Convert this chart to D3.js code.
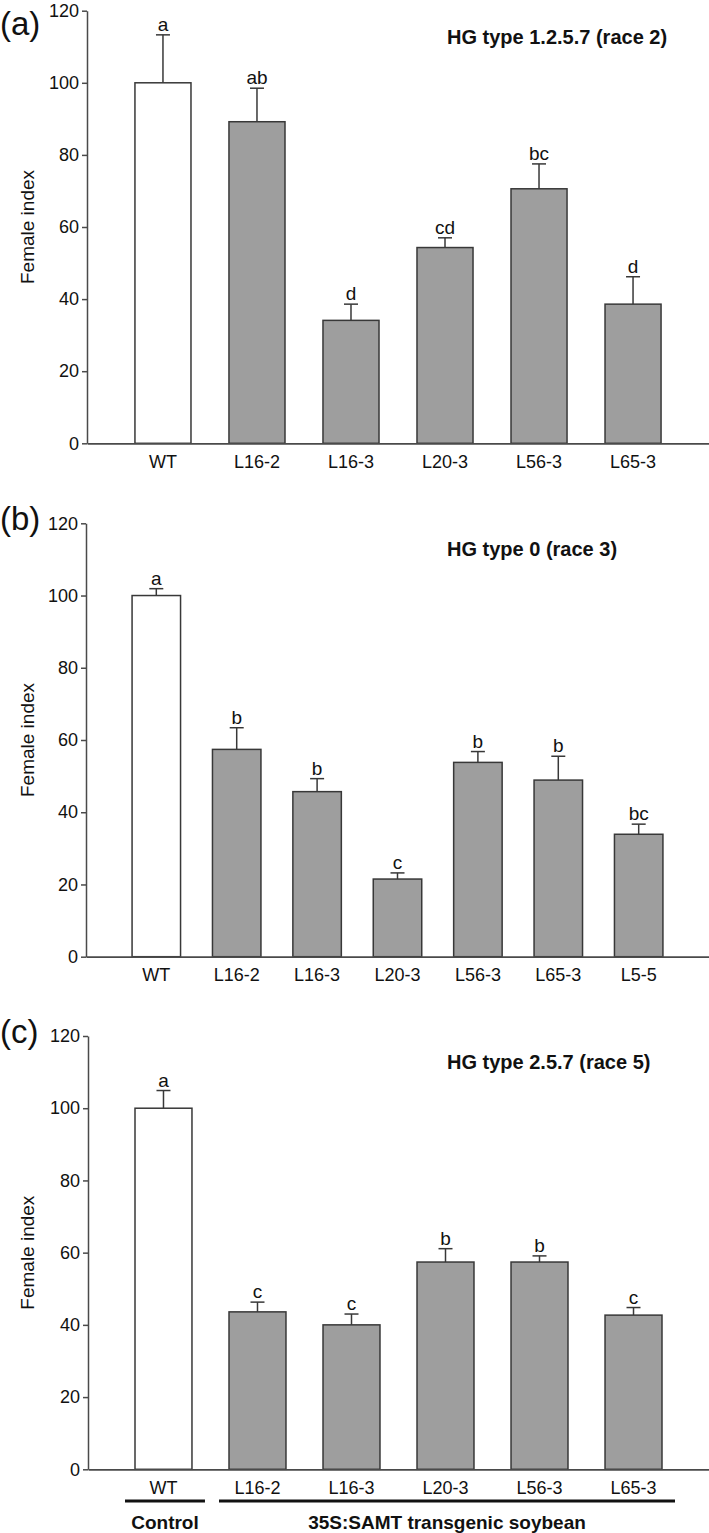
<!DOCTYPE html>
<html>
<head>
<meta charset="utf-8">
<script src="https://cdn.jsdelivr.net/npm/d3@7"></script>
<style>
  html, body { margin: 0; padding: 0; background: #fff; }
  svg { display: block; font-family: "Liberation Sans", Arial, sans-serif; }
</style>
</head>
<body>
<svg id="chart" width="709" height="1533"></svg>
<script>
// ---------- Data ----------
const yTicks = [0, 20, 40, 60, 80, 100, 120];

const catsA = ["WT", "L16-2", "L16-3", "L20-3", "L56-3", "L65-3"];
const valsA = [100, 89.2, 34.1, 54.3, 70.6, 38.6];
const seA = [13.3, 9.3, 4.5, 2.7, 6.9, 7.6];
const lettersA = ["a", "ab", "d", "cd", "bc", "d"];
const titleA = "HG type 1.2.5.7 (race 2)";

const catsB = ["WT", "L16-2", "L16-3", "L20-3", "L56-3", "L65-3", "L5-5"];
const valsB = [100, 57.4, 45.7, 21.5, 53.8, 48.9, 33.9];
const seB = [1.9, 6.0, 3.6, 1.7, 3.0, 6.6, 2.8];
const lettersB = ["a", "b", "b", "c", "b", "b", "bc"];
const titleB = "HG type 0 (race 3)";

const catsC = ["WT", "L16-2", "L16-3", "L20-3", "L56-3", "L65-3"];
const valsC = [100, 43.6, 40.0, 57.4, 57.4, 42.7];
const seC = [4.9, 2.7, 3.0, 3.7, 1.7, 2.1];
const lettersC = ["a", "c", "c", "b", "b", "c"];
const titleC = "HG type 2.5.7 (race 5)";

const groupLabels = ["Control", "35S:SAMT transgenic soybean"];
const groupMembers = [["WT"], ["L16-2", "L16-3", "L20-3", "L56-3", "L65-3"]];

const yLabel = "Female index";

// ---------- Drawing ----------
const svg = d3.select("#chart");
const FILL_CTRL = "#ffffff";
const FILL_TR = "#9e9e9e";
const STROKE = "#383838";
const AXIS = "#4a4a4a";

function drawPanel(cfg) {
  const g = svg.append("g");
  const y = d3.scaleLinear().domain([0, 120]).range([cfg.y0, cfg.yTop]);
  const x = d3.scaleBand().domain(cfg.cats).range([cfg.axisX, 709])
    .paddingInner(cfg.pi).paddingOuter(cfg.po);
  const data = cfg.cats.map((c, i) => ({ c, v: cfg.vals[i], se: cfg.se[i], l: cfg.letters[i], i }));

  // Y axis
  const yAxis = d3.axisLeft(y).tickValues(yTicks).tickSize(5).tickPadding(3).tickSizeOuter(0);
  const ya = g.append("g").attr("transform", `translate(${cfg.axisX},0)`).call(yAxis);
  ya.select(".domain").attr("stroke", AXIS).attr("stroke-width", 1.5);
  ya.selectAll(".tick line").attr("stroke", AXIS).attr("stroke-width", 1.5);
  ya.selectAll(".tick text").attr("font-size", 18).attr("fill", "#111")
    .attr("font-family", "Liberation Sans, Arial, sans-serif");

  // error bars (behind bars)
  const eb = g.append("g");
  data.forEach(d => {
    const cx = x(d.c) + x.bandwidth() / 2;
    eb.append("line").attr("x1", cx).attr("x2", cx)
      .attr("y1", y(d.v)).attr("y2", y(d.v + d.se))
      .attr("stroke", STROKE).attr("stroke-width", 1.5);
    eb.append("line").attr("x1", cx - 7).attr("x2", cx + 7)
      .attr("y1", y(d.v + d.se)).attr("y2", y(d.v + d.se))
      .attr("stroke", STROKE).attr("stroke-width", 1.5);
  });

  // bars
  g.append("g").selectAll("rect").data(data).join("rect")
    .attr("x", d => x(d.c))
    .attr("width", x.bandwidth())
    .attr("y", d => y(d.v))
    .attr("height", d => y(0) - y(d.v))
    .attr("fill", d => d.i === 0 ? FILL_CTRL : FILL_TR)
    .attr("stroke", STROKE).attr("stroke-width", 1.5);

  // X axis
  const xAxis = d3.axisBottom(x).tickSize(0).tickPadding(12).tickSizeOuter(0);
  const xa = g.append("g").attr("transform", `translate(0,${cfg.y0})`).call(xAxis);
  xa.select(".domain").attr("stroke", AXIS).attr("stroke-width", 1.8);
  xa.selectAll(".tick text").attr("font-size", 18).attr("fill", "#111")
    .attr("font-family", "Liberation Sans, Arial, sans-serif");

  // significance letters
  g.append("g").selectAll("text").data(data).join("text")
    .attr("x", d => x(d.c) + x.bandwidth() / 2)
    .attr("y", d => y(d.v + d.se) - 4)
    .attr("text-anchor", "middle")
    .attr("font-size", 19).attr("fill", "#111")
    .text(d => d.l);

  // y label
  g.append("text")
    .attr("transform", `translate(34,${(cfg.y0 + cfg.yTop) / 2}) rotate(-90)`)
    .attr("text-anchor", "middle")
    .attr("font-size", 19).attr("fill", "#111")
    .text(yLabel);

  // title
  g.append("text").attr("x", 447).attr("y", cfg.yTop + 33)
    .attr("font-size", 20).attr("font-weight", "bold").attr("fill", "#111")
    .text(cfg.title);

  // panel letter
  g.append("text").attr("x", 0).attr("y", cfg.labelY)
    .attr("font-size", 33).attr("fill", "#111")
    .text(cfg.panel);

  return { x, y };
}

drawPanel({ cats: catsA, vals: valsA, se: seA, letters: lettersA, title: titleA, panel: "(a)",
  axisX: 87, y0: 443.3, yTop: 10.7, pi: 0.404, po: 0.51, labelY: 35 });
drawPanel({ cats: catsB, vals: valsB, se: seB, letters: lettersB, title: titleB, panel: "(b)",
  axisX: 86, y0: 956.7, yTop: 523.3, pi: 0.397, po: 0.573, labelY: 530 });
const pc = drawPanel({ cats: catsC, vals: valsC, se: seC, letters: lettersC, title: titleC, panel: "(c)",
  axisX: 88, y0: 1469.3, yTop: 1036, pi: 0.394, po: 0.5, labelY: 1043 });

// group brackets under panel (c)
const gx = pc.x;
groupMembers.forEach((m, i) => {
  const x1 = gx(m[0]) - 10;
  const x2 = gx(m[m.length - 1]) + gx.bandwidth() + 13;
  svg.append("line").attr("x1", x1).attr("x2", x2).attr("y1", 1501).attr("y2", 1501)
    .attr("stroke", "#111").attr("stroke-width", 3);
  svg.append("text").attr("x", (x1 + x2) / 2).attr("y", 1529)
    .attr("text-anchor", "middle").attr("font-size", 19).attr("font-weight", "bold")
    .attr("fill", "#111").text(groupLabels[i]);
});
</script>
</body>
</html>
